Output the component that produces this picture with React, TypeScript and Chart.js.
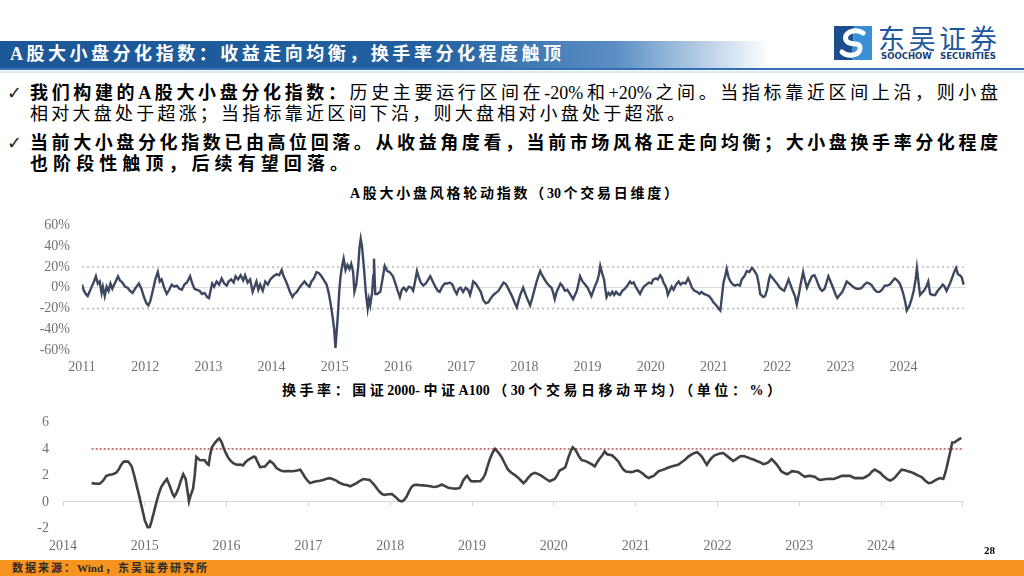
import React, { useEffect, useRef } from 'react';
import { Chart, registerables } from 'chart.js';

Chart.register(...registerables);

// ---------- Chart 1: A股大小盘风格轮动指数（30个交易日维度） ----------
const idxDates = [
  2011.00, 2011.03, 2011.06, 2011.09, 2011.12, 2011.16, 2011.19, 2011.22, 2011.25, 2011.28,
  2011.31, 2011.33, 2011.36, 2011.39, 2011.42, 2011.45, 2011.48, 2011.51, 2011.54, 2011.57,
  2011.60, 2011.64, 2011.68, 2011.72, 2011.76, 2011.80, 2011.85, 2011.90, 2011.94, 2011.98,
  2012.02, 2012.05, 2012.08, 2012.12, 2012.16, 2012.20, 2012.23, 2012.26, 2012.30, 2012.34,
  2012.38, 2012.42, 2012.46, 2012.50, 2012.54, 2012.58, 2012.62, 2012.66, 2012.71, 2012.74,
  2012.78, 2012.82, 2012.86, 2012.90, 2012.94, 2012.98, 2013.01, 2013.03, 2013.06, 2013.09,
  2013.13, 2013.17, 2013.21, 2013.25, 2013.29, 2013.32, 2013.36, 2013.40, 2013.43, 2013.47,
  2013.51, 2013.55, 2013.58, 2013.62, 2013.66, 2013.70, 2013.73, 2013.76, 2013.79, 2013.82,
  2013.86, 2013.90, 2013.94, 2013.98, 2014.03, 2014.08, 2014.12, 2014.16, 2014.19, 2014.23,
  2014.26, 2014.29, 2014.33, 2014.36, 2014.40, 2014.44, 2014.48, 2014.52, 2014.56, 2014.60,
  2014.63, 2014.67, 2014.71, 2014.75, 2014.79, 2014.83, 2014.87, 2014.90, 2014.93, 2014.95,
  2014.97, 2014.99, 2015.01, 2015.03, 2015.05, 2015.07, 2015.09, 2015.11, 2015.14, 2015.17,
  2015.20, 2015.23, 2015.26, 2015.29, 2015.31, 2015.34, 2015.37, 2015.39, 2015.41, 2015.43,
  2015.46, 2015.49, 2015.52, 2015.54, 2015.56, 2015.59, 2015.61, 2015.62, 2015.64, 2015.67,
  2015.72, 2015.76, 2015.79, 2015.83, 2015.87, 2015.92, 2015.96, 2015.99, 2016.03, 2016.06,
  2016.09, 2016.13, 2016.17, 2016.21, 2016.24, 2016.27, 2016.30, 2016.33, 2016.36, 2016.40,
  2016.44, 2016.48, 2016.51, 2016.55, 2016.59, 2016.63, 2016.66, 2016.70, 2016.74, 2016.78,
  2016.82, 2016.86, 2016.90, 2016.93, 2016.96, 2016.99, 2017.03, 2017.07, 2017.11, 2017.14,
  2017.17, 2017.19, 2017.23, 2017.27, 2017.31, 2017.35, 2017.39, 2017.43, 2017.47, 2017.51,
  2017.55, 2017.59, 2017.63, 2017.67, 2017.70, 2017.73, 2017.77, 2017.81, 2017.85, 2017.88,
  2017.91, 2017.94, 2017.98, 2018.01, 2018.04, 2018.07, 2018.09, 2018.12, 2018.15, 2018.19,
  2018.22, 2018.25, 2018.28, 2018.31, 2018.35, 2018.39, 2018.43, 2018.46, 2018.48, 2018.51,
  2018.54, 2018.57, 2018.60, 2018.64, 2018.68, 2018.72, 2018.77, 2018.80, 2018.83, 2018.86,
  2018.88, 2018.92, 2018.96, 2019.00, 2019.03, 2019.06, 2019.09, 2019.12, 2019.15, 2019.18,
  2019.20, 2019.23, 2019.26, 2019.28, 2019.30, 2019.33, 2019.36, 2019.39, 2019.42, 2019.45,
  2019.48, 2019.51, 2019.55, 2019.59, 2019.63, 2019.67, 2019.70, 2019.73, 2019.76, 2019.80,
  2019.83, 2019.86, 2019.89, 2019.93, 2019.97, 2020.01, 2020.04, 2020.08, 2020.11, 2020.15,
  2020.18, 2020.20, 2020.22, 2020.25, 2020.27, 2020.30, 2020.33, 2020.36, 2020.40, 2020.44,
  2020.47, 2020.51, 2020.55, 2020.59, 2020.62, 2020.65, 2020.69, 2020.73, 2020.77, 2020.80,
  2020.84, 2020.88, 2020.92, 2020.96, 2020.99, 2021.02, 2021.05, 2021.07, 2021.10, 2021.13,
  2021.15, 2021.18, 2021.20, 2021.23, 2021.26, 2021.30, 2021.33, 2021.37, 2021.41, 2021.44,
  2021.48, 2021.52, 2021.56, 2021.60, 2021.63, 2021.68, 2021.71, 2021.73, 2021.78, 2021.81,
  2021.84, 2021.87, 2021.89, 2021.93, 2021.97, 2022.01, 2022.04, 2022.08, 2022.11, 2022.15,
  2022.18, 2022.21, 2022.24, 2022.28, 2022.31, 2022.34, 2022.37, 2022.41, 2022.44, 2022.47,
  2022.51, 2022.55, 2022.59, 2022.62, 2022.65, 2022.68, 2022.71, 2022.75, 2022.78, 2022.81,
  2022.85, 2022.89, 2022.92, 2022.95, 2022.99, 2023.03, 2023.06, 2023.10, 2023.14, 2023.18,
  2023.22, 2023.26, 2023.30, 2023.34, 2023.38, 2023.42, 2023.46, 2023.50, 2023.54, 2023.58,
  2023.62, 2023.66, 2023.70, 2023.74, 2023.78, 2023.82, 2023.86, 2023.90, 2023.94, 2023.97,
  2024.00, 2024.03, 2024.05, 2024.08, 2024.10, 2024.13, 2024.16, 2024.19, 2024.21, 2024.24,
  2024.26, 2024.29, 2024.32, 2024.36, 2024.39, 2024.42, 2024.46, 2024.50, 2024.54, 2024.58,
  2024.62, 2024.65, 2024.68, 2024.71, 2024.74, 2024.77, 2024.80, 2024.83, 2024.86, 2024.89,
  2024.92, 2024.95,
];
const idxValues = [
  3, -3, -6, -8, -4, 2, 6, 11, 4, 6,
  -5, 1, -8, 1, -3, 4, -1, 3, 7, 11,
  7, 5, 1, 0, -3, -5, 0, 4, -1, -9,
  -15, -17, -13, -3, 8, 15, 6, 8, 0, -6,
  -2, 3, 1, 2, -1, -2, 3, 5, 11, 5,
  -1, -2, -3, -6, -5, -9, -10, -4, 4, 1,
  6, 3, 9, 4, 2, 6, 8, 5, 11, 8,
  12, 7, 12, 5, 8, -4, 1, 6, -2, 3,
  -3, 6, 3, 8, 11, 13, 12, 17, 11, 6,
  1, -4, -9, -6, -4, 0, 3, 6, 3, 1,
  6, 9, 15, 14, 11, 7, 3, -4, -14, -22,
  -30, -40, -58, -42, -25, -4, 10, 19, 28, 17,
  22, 18, 23, 15, -4, 3, 20, 38, 47, 40,
  20, -4, -20, -11, -17, -5, 12, 28, -6, -6,
  -4, 10, 21, 16, 15, 11, 4, -2, -9, -2,
  0, -3, 1, 0, -3, 6, 16, 10, 5, 2,
  4, 8, 11, 6, 1, -3, -4, 1, 4, 4,
  5, 3, -3, -6, -1, 0, -4, 0, -2, -7,
  0, 6, 4, 0, -4, -12, -15, -14, -10, -7,
  -5, -3, 1, 5, 4, 1, -4, -9, -15, -19,
  -12, -6, 0, -5, -10, -14, -17, -11, -4, 5,
  11, 16, 12, 9, 5, 2, 0, -6, -11, -4,
  0, 4, 2, -3, -2, -6, -11, -7, -3, 5,
  11, 6, 3, 0, -4, -8, -3, 2, 6, 13,
  21, 14, 8, -1, -9, -5, -7, -4, -7, -4,
  -6, -7, -3, -1, 2, 6, 4, 5, 1, -3,
  -6, -2, 1, 3, 5, 4, 8, 9, 8, 12,
  9, 5, 3, -1, -7, -3, 1, -2, 3, 6,
  3, 5, 4, 9, 5, 0, -3, -4, -6, -4,
  -6, -7, -8, -11, -14, -16, -18, -20, -22, -6,
  5, 12, 18, 10, 6, 3, 2, 3, 2, 8,
  11, 16, 15, 19, 17, 12, 3, -6, -9, -8,
  -2, 8, 12, 9, 6, 3, 0, -2, -3, 3,
  8, 3, -2, -8, -16, -7, 3, 15, 7, 0,
  6, 11, 12, 8, 3, -1, -3, -1, 5, 11,
  5, -1, -6, -10, -7, -4, 0, 6, 4, 2,
  0, -1, -1, 0, 3, 5, 4, 2, -2, -4,
  -4, -2, 2, 2, 3, 6, 9, 7, 4, -1,
  -7, -15, -22, -19, -16, -10, -3, 8, 19, 3,
  -7, -5, -3, 1, 6, -6, -7, -7, -3, 0,
  3, 1, -3, 1, 5, 10, 15, 19, 13, 12,
  10, 3,
];
const idxBandValues = [20, -20];
const idxYearLabels = ['2011', '2012', '2013', '2014', '2015', '2016', '2017', '2018', '2019', '2020', '2021', '2022', '2023', '2024'];

// ---------- Chart 2: 换手率：国证2000-中证A100 ----------
const toDates = [
  2014.35, 2014.40, 2014.45, 2014.49, 2014.53, 2014.57, 2014.61, 2014.65, 2014.68, 2014.71,
  2014.74, 2014.77, 2014.80, 2014.84, 2014.87, 2014.90, 2014.93, 2014.96, 2015.00, 2015.04,
  2015.06, 2015.08, 2015.11, 2015.14, 2015.17, 2015.20, 2015.24, 2015.27, 2015.31, 2015.34,
  2015.36, 2015.38, 2015.41, 2015.44, 2015.47, 2015.50, 2015.52, 2015.54, 2015.56, 2015.59,
  2015.61, 2015.63, 2015.65, 2015.67, 2015.70, 2015.73, 2015.76, 2015.78, 2015.80, 2015.82,
  2015.86, 2015.89, 2015.91, 2015.94, 2015.96, 2015.99, 2016.02, 2016.05, 2016.08, 2016.11,
  2016.14, 2016.17, 2016.20, 2016.23, 2016.26, 2016.30, 2016.33, 2016.35, 2016.38, 2016.41,
  2016.44, 2016.47, 2016.50, 2016.53, 2016.57, 2016.61, 2016.65, 2016.69, 2016.75, 2016.81,
  2016.86, 2016.90, 2016.93, 2016.96, 2016.99, 2017.02, 2017.06, 2017.10, 2017.14, 2017.18,
  2017.22, 2017.26, 2017.30, 2017.34, 2017.38, 2017.43, 2017.47, 2017.51, 2017.55, 2017.59,
  2017.63, 2017.67, 2017.71, 2017.75, 2017.78, 2017.81, 2017.84, 2017.87, 2017.90, 2017.93,
  2017.97, 2018.02, 2018.05, 2018.08, 2018.11, 2018.14, 2018.17, 2018.20, 2018.23, 2018.26,
  2018.29, 2018.32, 2018.36, 2018.40, 2018.45, 2018.49, 2018.52, 2018.55, 2018.59, 2018.63,
  2018.67, 2018.71, 2018.75, 2018.79, 2018.82, 2018.85, 2018.87, 2018.89, 2018.92, 2018.94,
  2018.97, 2018.99, 2019.03, 2019.07, 2019.10, 2019.13, 2019.16, 2019.19, 2019.22, 2019.25,
  2019.28, 2019.32, 2019.36, 2019.40, 2019.44, 2019.48, 2019.52, 2019.56, 2019.60, 2019.63,
  2019.66, 2019.69, 2019.73, 2019.77, 2019.81, 2019.85, 2019.90, 2019.95, 2020.01, 2020.04,
  2020.07, 2020.11, 2020.14, 2020.16, 2020.18, 2020.21, 2020.23, 2020.26, 2020.28, 2020.31,
  2020.34, 2020.38, 2020.42, 2020.46, 2020.50, 2020.53, 2020.56, 2020.59, 2020.62, 2020.65,
  2020.67, 2020.71, 2020.75, 2020.79, 2020.82, 2020.85, 2020.88, 2020.91, 2020.94, 2020.97,
  2021.00, 2021.03, 2021.06, 2021.09, 2021.12, 2021.16, 2021.19, 2021.22, 2021.25, 2021.28,
  2021.32, 2021.36, 2021.40, 2021.44, 2021.48, 2021.52, 2021.56, 2021.60, 2021.64, 2021.68,
  2021.72, 2021.75, 2021.78, 2021.81, 2021.84, 2021.87, 2021.90, 2021.93, 2021.96, 2021.99,
  2022.03, 2022.07, 2022.10, 2022.13, 2022.16, 2022.19, 2022.22, 2022.25, 2022.28, 2022.32,
  2022.36, 2022.40, 2022.44, 2022.48, 2022.52, 2022.56, 2022.59, 2022.62, 2022.66, 2022.69,
  2022.72, 2022.75, 2022.78, 2022.81, 2022.85, 2022.88, 2022.91, 2022.95, 2022.99, 2023.03,
  2023.07, 2023.10, 2023.13, 2023.16, 2023.19, 2023.22, 2023.25, 2023.29, 2023.33, 2023.38,
  2023.42, 2023.47, 2023.52, 2023.57, 2023.62, 2023.65, 2023.68, 2023.73, 2023.78, 2023.82,
  2023.86, 2023.89, 2023.92, 2023.95, 2023.99, 2024.02, 2024.05, 2024.08, 2024.11, 2024.14,
  2024.17, 2024.21, 2024.25, 2024.29, 2024.33, 2024.37, 2024.41, 2024.45, 2024.50, 2024.54,
  2024.58, 2024.61, 2024.64, 2024.68, 2024.72, 2024.76, 2024.78, 2024.80, 2024.82, 2024.84,
  2024.86, 2024.87, 2024.90, 2024.92, 2024.95, 2024.98,
];
const toValues = [
  1.42, 1.38, 1.37, 1.6, 1.97, 2.05, 2.09, 2.2, 2.44, 2.8,
  3.04, 3.06, 3.04, 2.68, 2.0, 1.25, 0.5, -0.31, -1.39, -1.98,
  -1.9, -1.5, -0.8, -0.07, 0.6, 1.13, 1.5, 1.73, 1.13, 0.6,
  0.41, 0.6, 1.01, 1.6, 2.09, 1.73, 0.9, 0.05, 0.5, 1.01,
  2.0, 3.4, 3.3, 3.16, 3.15, 3.16, 2.9, 2.8, 3.6, 4.12,
  4.48, 4.7, 4.79, 4.5, 4.12, 3.7, 3.33, 3.1, 2.92, 2.85,
  2.8, 2.82, 2.76, 3.0, 3.16, 3.3, 3.42, 3.4, 3.0, 2.62,
  2.65, 2.68, 2.9, 3.09, 2.9, 2.56, 2.4, 2.32, 2.33, 2.32,
  2.38, 2.44, 2.15, 1.85, 1.6, 1.42, 1.5, 1.56, 1.6, 1.66,
  1.75, 1.8, 1.72, 1.61, 1.45, 1.32, 1.28, 1.18, 1.3, 1.42,
  1.6, 1.73, 1.7, 1.66, 1.45, 1.25, 1.0, 0.77, 0.6, 0.53,
  0.58, 0.6, 0.45, 0.29, 0.1, 0.05, 0.15, 0.41, 0.8, 1.13,
  1.28, 1.3, 1.27, 1.25, 1.22, 1.18, 1.15, 1.13, 1.2, 1.32,
  1.2, 1.08, 1.03, 1.01, 1.02, 1.06, 1.3, 1.61, 1.85, 1.97,
  1.7, 1.56, 1.55, 1.56, 1.56, 1.75, 2.09, 2.7, 3.28, 3.7,
  4.0, 3.75, 3.4, 2.9, 2.44, 2.2, 2.05, 1.85, 1.6, 1.42,
  1.6, 1.85, 2.1, 2.2, 2.1, 1.97, 1.75, 1.56, 1.73, 2.0,
  2.37, 2.5, 2.62, 3.0, 3.4, 3.9, 4.12, 3.95, 3.76, 3.4,
  3.16, 3.1, 2.99, 2.85, 2.68, 3.0, 3.28, 3.5, 3.81, 3.6,
  3.57, 3.52, 3.3, 3.04, 2.7, 2.44, 2.3, 2.28, 2.25, 2.28,
  2.35, 2.37, 2.25, 2.13, 1.95, 1.8, 1.9, 1.97, 2.15, 2.32,
  2.4, 2.49, 2.6, 2.68, 2.75, 2.8, 3.0, 3.16, 3.4, 3.57,
  3.7, 3.76, 3.6, 3.4, 3.1, 2.8, 3.1, 3.33, 3.5, 3.57,
  3.65, 3.69, 3.55, 3.4, 3.25, 3.09, 3.2, 3.33, 3.45, 3.47,
  3.38, 3.28, 3.2, 3.09, 3.0, 2.85, 2.9, 2.99, 3.23, 3.05,
  2.85, 2.6, 2.32, 2.2, 2.09, 2.2, 2.32, 2.3, 2.25, 2.05,
  1.9, 1.95, 1.97, 1.93, 1.9, 1.75, 1.66, 1.7, 1.73, 1.74,
  1.73, 1.85, 1.97, 1.98, 1.97, 1.88, 1.8, 1.8, 1.8, 1.92,
  2.09, 2.3, 2.44, 2.35, 2.2, 2.0, 1.85, 1.7, 1.61, 1.7,
  1.85, 2.15, 2.44, 2.4, 2.32, 2.25, 2.13, 2.0, 1.85, 1.6,
  1.42, 1.45, 1.56, 1.7, 1.8, 1.73, 2.1, 2.56, 3.1, 3.64,
  4.2, 4.48, 4.5, 4.6, 4.72, 4.84,
];
const toThreshold = 4;
const toYearLabels = ['2014', '2015', '2016', '2017', '2018', '2019', '2020', '2021', '2022', '2023', '2024'];

const tickFont = { family: '"Liberation Serif", "Times New Roman", serif', size: 14 };
const tickColor = '#717171';
const cjk = '"Liberation Serif", "Noto Sans CJK SC", serif';

function IndexChart() {
  const ref = useRef<HTMLCanvasElement | null>(null);
  useEffect(() => {
    if (!ref.current) return;
    const first = idxDates[0];
    const last = idxDates[idxDates.length - 1];
    const chart = new Chart(ref.current, {
      type: 'line',
      data: {
        datasets: [
          {
            data: idxDates.map((d, i) => ({ x: d, y: idxValues[i] })),
            borderColor: '#3b4860',
            borderWidth: 2.4,
            pointRadius: 0,
            tension: 0,
            order: 0,
          },
          ...idxBandValues.map((v) => ({
            data: [{ x: first, y: v }, { x: last, y: v }],
            borderColor: '#b8b8b8',
            borderWidth: 1.6,
            borderDash: [2, 3],
            pointRadius: 0,
            order: 1,
          })),
        ],
      },
      options: {
        animation: false,
        responsive: false,
        maintainAspectRatio: false,
        plugins: { legend: { display: false }, tooltip: { enabled: false } },
        layout: { padding: { top: 10, right: 33.2, left: 0, bottom: 0 } },
        scales: {
          x: {
            type: 'linear',
            min: 2011,
            max: 2025,
            afterFit: (s: any) => { s.height = 30; },
            ticks: {
              stepSize: 1,
              autoSkip: false,
              maxRotation: 0,
              padding: 9,
              font: tickFont,
              color: tickColor,
              callback: (_v: any, i: number) => idxYearLabels[i] ?? '',
            },
            grid: { display: false, drawTicks: false },
            border: { display: false },
          },
          y: {
            min: -60,
            max: 60,
            afterFit: (s: any) => { s.width = 82; },
            ticks: {
              stepSize: 20,
              padding: 12,
              font: tickFont,
              color: tickColor,
              callback: (v: any) => `${v}%`,
            },
            grid: {
              drawTicks: false,
              color: (c: any) => (c.tick && c.tick.value === 0 ? '#dcdcdc' : 'rgba(0,0,0,0)'),
              lineWidth: 1,
            },
            border: { display: false },
          },
        },
      },
    } as any);
    return () => chart.destroy();
  }, []);
  return (
    <canvas
      ref={ref}
      width={1000}
      height={175}
      style={{ position: 'absolute', left: 0, top: 205, width: 1000, height: 175 }}
    />
  );
}

function TurnoverChart() {
  const ref = useRef<HTMLCanvasElement | null>(null);
  useEffect(() => {
    if (!ref.current) return;
    const first = toDates[0];
    const chart = new Chart(ref.current, {
      type: 'line',
      data: {
        datasets: [
          {
            data: toDates.map((d, i) => ({ x: d, y: toValues[i] })),
            borderColor: '#3f4146',
            borderWidth: 2.6,
            pointRadius: 0,
            tension: 0,
            xAxisID: 'x',
            order: 0,
          },
          {
            data: [{ x: first, y: toThreshold }, { x: 2025, y: toThreshold }],
            borderColor: '#c0504d',
            borderWidth: 1.5,
            borderDash: [2, 2],
            pointRadius: 0,
            xAxisID: 'x',
            order: 1,
          },
        ],
      },
      options: {
        animation: false,
        responsive: false,
        maintainAspectRatio: false,
        plugins: { legend: { display: false }, tooltip: { enabled: false } },
        layout: { padding: { top: 17, right: 37.1, left: 0, bottom: 0 } },
        scales: {
          x: {
            type: 'linear',
            min: 2014,
            max: 2025,
            afterFit: (s: any) => { s.height = 33.5; },
            ticks: {
              stepSize: 1,
              autoSkip: false,
              maxRotation: 0,
              padding: 9,
              font: tickFont,
              color: tickColor,
              callback: (_v: any, i: number) => toYearLabels[i] ?? '',
            },
            grid: { display: false, drawTicks: false },
            border: { display: false },
          },
          x0: {
            type: 'linear',
            axis: 'x',
            position: { y: 0 },
            min: 2014,
            max: 2025,
            afterFit: (s: any) => { s.height = 0; },
            ticks: { display: false, stepSize: 1 },
            grid: { drawOnChartArea: false, drawTicks: true, tickLength: 4, color: '#d6d6d6' },
            border: { display: true, color: '#d6d6d6', width: 1 },
          },
          y: {
            min: -2,
            max: 6,
            afterFit: (s: any) => { s.width = 63; },
            ticks: {
              stepSize: 2,
              padding: 14,
              font: tickFont,
              color: tickColor,
            },
            grid: { display: false, drawTicks: false },
            border: { display: false },
          },
        },
      },
    } as any);
    return () => chart.destroy();
  }, []);
  return (
    <canvas
      ref={ref}
      width={1000}
      height={162}
      style={{ position: 'absolute', left: 0, top: 400, width: 1000, height: 162 }}
    />
  );
}

function Line(props: {
  left: number; top: number; width: number; size: number; lh?: number;
  color?: string; weight?: number; children: React.ReactNode; justify?: boolean; family?: string;
}) {
  const lh = props.lh ?? Math.round(props.size * 1.2);
  return (
    <div
      style={{
        position: 'absolute',
        left: props.left,
        top: props.top,
        width: props.width,
        fontSize: props.size,
        lineHeight: `${lh}px`,
        height: lh,
        color: props.color ?? '#000',
        fontWeight: props.weight ?? 400,
        fontFamily: props.family ?? cjk,
        textAlign: props.justify === false ? 'left' : 'justify',
        textAlignLast: props.justify === false ? 'left' : 'justify',
        whiteSpace: 'nowrap',
        overflow: 'visible',
      } as React.CSSProperties}
    >
      {props.children}
    </div>
  );
}

function Check(props: { top: number }) {
  return (
    <div
      style={{
        position: 'absolute',
        left: 7,
        top: props.top,
        fontSize: 18,
        lineHeight: '22px',
        fontFamily: '"DejaVu Sans", sans-serif',
        color: '#222',
      }}
    >
      ✓
    </div>
  );
}

export default function App() {
  return (
    <div
      style={{
        position: 'fixed',
        left: 0,
        top: 0,
        width: 1024,
        height: 576,
        background: '#fff',
        overflow: 'hidden',
      }}
    >
      {/* Title band */}
      <div
        style={{
          position: 'absolute',
          left: 0,
          top: 41,
          width: 770,
          height: 27,
          background: 'linear-gradient(to right, #1c5797 0%, #22609f 55%, #5b8fc4 80%, rgba(255,255,255,0) 100%)',
        }}
      />
      <div
        style={{
          position: 'absolute',
          left: 0,
          top: 68,
          width: 1024,
          height: 2,
          background: 'linear-gradient(to right, #3a74b6, #2f6cb3)',
        }}
      />
      <div style={{ position: 'absolute', left: 0, top: 71, width: 1024, height: 2, background: '#dbe8f5' }} />
      <Line left={10} top={43} width={551} size={18} lh={22} color="#fff" weight={700}>
        A股大小盘分化指数：收益走向均衡，换手率分化程度触顶
      </Line>

      {/* Logo */}
      <svg style={{ position: 'absolute', left: 832, top: 24 }} width={42} height={38} viewBox="0 0 42 38">
        <polygon points="2,2 22,2 20,36 2,36" fill="#1b4d8f" />
        <polygon points="22,2 40,2 40,36 20,36" fill="#3b8fd6" />
        <path d="M31,9 C24,4 11,8 14,16 C17,23 29,16 28,25 C27,32 15,33 10,28" stroke="#fff" strokeWidth={5} fill="none" strokeLinecap="round" />
      </svg>
      <Line left={878} top={22} width={119} size={27} lh={32} color="#1f5aa0" weight={400} family='"Noto Sans CJK SC", sans-serif'>
        东吴证券
      </Line>
      <Line left={881} top={50} width={115} size={9.5} lh={12} color="#1b3f73" weight={700} family='"DejaVu Sans Condensed", "DejaVu Sans", sans-serif'>
        SOOCHOW SECURITIES
      </Line>

      {/* Bullets */}
      <Check top={82} />
      <Line left={30} top={82} width={968} size={18} lh={22}>
        <b>我们构建的A股大小盘分化指数：</b>历史主要运行区间在-20%和+20%之间。当指标靠近区间上沿，则小盘
      </Line>
      <Line left={30} top={103} width={655} size={18} lh={22}>
        相对大盘处于超涨；当指标靠近区间下沿，则大盘相对小盘处于超涨。
      </Line>
      <Check top={132} />
      <Line left={30} top={132} width={968} size={18} lh={22} weight={700}>
        当前大小盘分化指数已由高位回落。从收益角度看，当前市场风格正走向均衡；大小盘换手率分化程度
      </Line>
      <Line left={30} top={153} width={318} size={18} lh={22} weight={700}>
        也阶段性触顶，后续有望回落。
      </Line>

      {/* Chart titles */}
      <Line left={350} top={185} width={328} size={14} lh={18} weight={700}>
        A股大小盘风格轮动指数（30个交易日维度）
      </Line>
      <Line left={282} top={382} width={499} size={14} lh={18} weight={700}>
        换手率：国证2000-中证A100（30个交易日移动平均）（单位：%）
      </Line>

      <IndexChart />
      <TurnoverChart />

      {/* Page number */}
      <Line left={984} top={543} width={14} size={11} lh={14} weight={700} justify={false}>
        28
      </Line>

      {/* Footer */}
      <div style={{ position: 'absolute', left: 0, top: 560, width: 1024, height: 16, background: '#f7941f' }} />
      <Line left={12} top={561} width={195} size={11} lh={14} weight={700} color="#2a2a2a">
        数据来源：Wind，东吴证券研究所
      </Line>
    </div>
  );
}
